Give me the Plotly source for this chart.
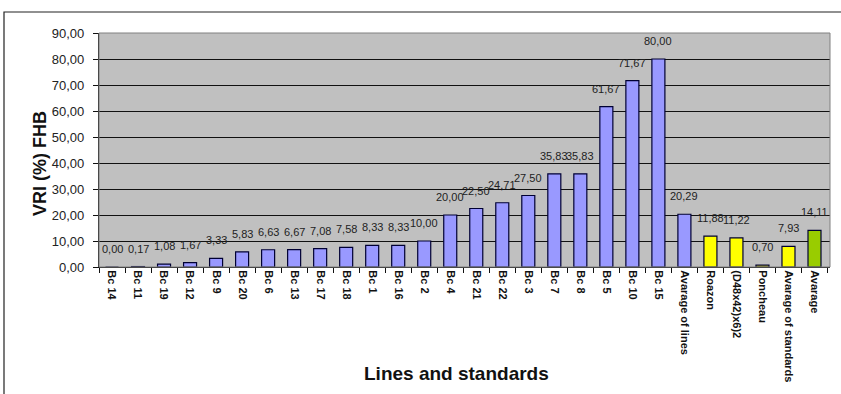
import plotly.graph_objects as go

# VRI (%) FHB per breeding line and per standard cultivar
lines = ["Bc 14", "Bc 11", "Bc 19", "Bc 12", "Bc 9", "Bc 20", "Bc 6", "Bc 13",
         "Bc 17", "Bc 18", "Bc 1", "Bc 16", "Bc 2", "Bc 4", "Bc 21", "Bc 22",
         "Bc 3", "Bc 7", "Bc 8", "Bc 5", "Bc 10", "Bc 15", "Avarage of lines"]
line_values = [0.00, 0.17, 1.08, 1.67, 3.33, 5.83, 6.63, 6.67,
               7.08, 7.58, 8.33, 8.33, 10.00, 20.00, 22.50, 24.71,
               27.50, 35.83, 35.83, 61.67, 71.67, 80.00, 20.29]

standards = ["Roazon", "(D48x42)x6)2", "Poncheau", "Avarage of standards"]
standard_values = [11.88, 11.22, 0.70, 7.93]

overall = ["Avarage"]
overall_values = [14.11]

y_ticks = [0, 10, 20, 30, 40, 50, 60, 70, 80, 90]

categories = lines + standards + overall
values = line_values + standard_values + overall_values
colors = (["#9999FF"] * len(lines) + ["#FFFF00"] * len(standards)
          + ["#99CC00"] * len(overall))

FONT = "Liberation Sans, Arial, sans-serif"

fig = go.Figure(go.Bar(
    x=categories,
    y=values,
    marker=dict(color=colors, line=dict(color="#000033", width=1.2)),
    width=0.5,
    hoverinfo="x+y",
))

# value labels floating above each bar
for cat, val in zip(categories, values):
    fig.add_annotation(
        x=cat, y=val, text=f"{val:.2f}".replace(".", ","),
        showarrow=False, yanchor="bottom", yshift=10,
        font=dict(family=FONT, size=11, color="#222222"),
    )

L, R, T, B = 99, 11, 33, 127
W, H = 841, 394
pw, ph = W - L - R, H - T - B

def px(xp):
    return (xp - L) / pw

def py(yp):
    return (H - B - yp) / ph

fig.update_layout(
    width=W, height=H,
    margin=dict(l=L, r=R, t=T, b=B),
    paper_bgcolor="white",
    plot_bgcolor="#C0C0C0",
    separators=", ",
    showlegend=False,
    font=dict(family=FONT, color="#222222"),
    shapes=[
        # outer chart frame
        dict(type="rect", xref="paper", yref="paper",
             x0=px(4), x1=px(846), y0=py(400), y1=py(12),
             line=dict(color="#222222", width=1.2), layer="below"),
        # plot area frame
        dict(type="rect", xref="paper", yref="paper",
             x0=0, x1=1, y0=0, y1=1,
             line=dict(color="#808080", width=1), layer="above"),
    ],
)

fig.add_annotation(text="<b>VRI (%) FHB</b>", xref="paper", yref="paper",
                   x=px(28), y=py(164), textangle=-90, showarrow=False,
                   font=dict(family=FONT, size=18, color="#111111"))
fig.add_annotation(text="<b>Lines and standards</b>", xref="paper", yref="paper",
                   x=px(456), y=py(386), showarrow=False,
                   font=dict(family=FONT, size=19, color="#111111"))

fig.update_xaxes(
    type="category",
    tickangle=90,
    tickfont=dict(family=FONT, size=11, color="#111111", weight="bold"),
    ticks="outside", ticklen=5, tickcolor="#111111", tickson="boundaries",
    showline=True, linecolor="#111111", linewidth=1.2,
    showgrid=False,
)

fig.update_yaxes(
    range=[0, 90],
    tickvals=y_ticks,
    tickformat=".2f",
    tickfont=dict(family=FONT, size=13, color="#222222"),
    ticks="outside", ticklen=5, tickcolor="#111111",
    ticklabelstandoff=6,
    showline=True, linecolor="#111111", linewidth=1.2,
    showgrid=True, gridcolor="#111111", gridwidth=1,
    zeroline=False,
)

fig.write_html("out.html")
